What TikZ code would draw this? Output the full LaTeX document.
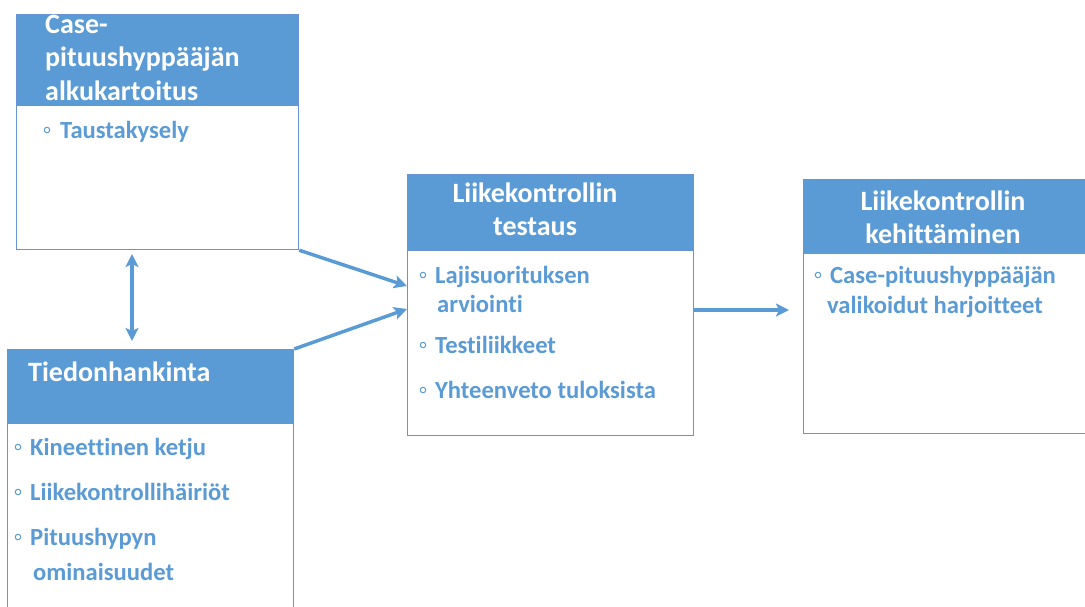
\documentclass[tikz,border=0pt]{standalone}
\usepackage{fontspec}
\setmainfont{Carlito}[Ligatures=NoCommon]
\usetikzlibrary{arrows.meta}
\definecolor{hdr}{HTML}{5B9BD5}
\definecolor{brd}{HTML}{6A93D6}
\definecolor{txt}{HTML}{5B9BD5}
\begin{document}
\begin{tikzpicture}[x=1pt,y=-1pt,
  box/.style={rectangle, draw=brd, line width=1.2pt, fill=white, inner sep=0pt, anchor=north west},
  hbox/.style={rectangle, draw=brd, line width=1.2pt, fill=hdr, inner sep=0pt, anchor=north west},
  tx/.style={anchor=base west, inner sep=0pt, font=\fontsize{24.6}{29}\selectfont\bfseries, text=txt},
  ht/.style={anchor=base west, inner sep=0pt, font=\fontsize{28}{33}\selectfont\bfseries, text=white},
  htc/.style={ht, anchor=base},
  bul/.style={circle, draw=txt, line width=1pt, inner sep=0pt, minimum size=5.5pt},
  arr/.style={draw=hdr, line width=3.5pt, -{Stealth[length=13pt,width=13pt,inset=3pt]}},
  darr/.style={draw=hdr, line width=3.5pt, {Stealth[length=13pt,width=13pt,inset=3pt]}-{Stealth[length=13pt,width=13pt,inset=3pt]}}
]
\useasboundingbox (0,0) rectangle (1085,606);
% Box 1
\node[box, minimum width=282pt, minimum height=235pt] (b1) at (16,14) {};
\node[hbox, minimum width=282pt, minimum height=91pt] (h1) at (16,14) {};
\node[ht] (h1a) at (45,33) {Case-};
\node[ht] (h1b) at (45,66) {pituushyppääjän};
\node[ht] (h1c) at (45,100) {alkukartoitus};
\node[bul] (u11) at (47,130) {};
\node[tx] (t11) at (60,138) {Taustakysely};
% Box 2
\node[box, minimum width=286pt, minimum height=270pt] (b2) at (7,349) {};
\node[hbox, minimum width=286pt, minimum height=74pt] (h2) at (7,349) {};
\node[ht] (h2a) at (28,381) {Tiedonhankinta};
\node[bul] (u21) at (18,447) {};
\node[tx] (t21) at (30,455) {Kineettinen ketju};
\node[bul] (u22) at (18,492) {};
\node[tx] (t22) at (30,500) {Liikekontrollihäiriöt};
\node[bul] (u23) at (18,537) {};
\node[tx] (t23) at (30,545) {Pituushypyn};
\node[tx] (t24) at (33,580) {ominaisuudet};
% Box 3
\node[box, minimum width=286pt, minimum height=261pt] (b3) at (407,174) {};
\node[hbox, minimum width=286pt, minimum height=76pt] (h3) at (407,174) {};
\node[htc] (h3a) at (535,202) {Liikekontrollin};
\node[htc] (h3b) at (535,235) {testaus};
\node[bul] (u31) at (423,275) {};
\node[tx] (t31) at (435,283) {Lajisuorituksen};
\node[tx] (t32) at (437,312) {arviointi};
\node[bul] (u33) at (423,345) {};
\node[tx] (t33) at (435,353) {Testiliikkeet};
\node[bul] (u34) at (423,390) {};
\node[tx] (t34) at (435,398) {Yhteenveto tuloksista};
% Box 4
\node[box, minimum width=290pt, minimum height=254pt] (b4) at (803,179) {};
\node[hbox, minimum width=290pt, minimum height=74pt] (h4) at (803,179) {};
\node[htc] (h4a) at (943,210) {Liikekontrollin};
\node[htc] (h4b) at (943,243) {kehittäminen};
\node[bul] (u41) at (818,275) {};
\node[tx] (t41) at (830,283) {Case-pituushyppääjän};
\node[tx] (t42) at (827,313) {valikoidut harjoitteet};
% Arrows
\coordinate (d1) at (132,254);
\coordinate (d2) at (132,341);
\coordinate (e1) at (407,286);
\coordinate (e2) at (407,309);
\coordinate (s3) at (694,310);
\coordinate (e3) at (789,310);
\draw[darr] (d1) -- (d2);
\draw[arr] (b1.south east) -- (e1);
\draw[arr] (h2.north east) -- (e2);
\draw[arr] (s3) -- (e3);
\end{tikzpicture}
\end{document}
